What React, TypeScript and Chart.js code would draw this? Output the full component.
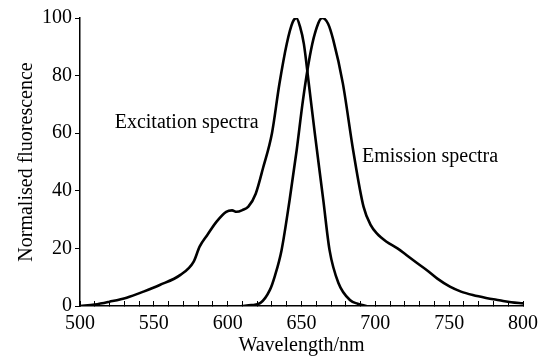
import React, { useEffect, useRef } from "react";
import { Chart, registerables } from "chart.js";

Chart.register(...registerables);

const excitationNm = [500, 510, 520, 531.6, 543, 554, 568, 577, 581, 586, 592.5, 599, 603, 606, 610, 614, 619, 624, 630, 635, 640, 644, 646.5, 649, 651.6, 655, 659, 664.7, 669, 675, 683, 688, 694];
const excitationVal = [0, 0.5, 1.5, 2.9, 5, 7.3, 10.8, 15.4, 20.6, 24.5, 29.3, 32.7, 33.2, 32.7, 33.3, 34.5, 39, 48, 60, 77, 91, 98.5, 100, 97, 91, 77, 60, 37, 19.4, 8, 2, 0.8, 0];

const emissionNm = [609.5, 616, 622, 628.6, 632, 636.5, 642, 646.7, 651, 655.6, 659, 664, 668, 671.5, 678, 685, 692, 697, 701, 707.6, 715, 721, 728, 734.7, 742, 750.5, 758, 766, 775, 784, 792, 800];
const emissionVal = [0, 0.3, 1, 5.6, 10.5, 19.4, 37, 54, 71.5, 86.6, 94.5, 100, 98, 92.4, 77.3, 54, 34.5, 28, 25.2, 22.3, 20, 17.7, 15, 12.5, 9.5, 6.7, 5, 3.8, 2.8, 2, 1.3, 0.9];

const xTitle = "Wavelength/nm";
const yTitle = "Normalised fluorescence";
const curveLabels = ["Excitation spectra", "Emission spectra"];
const curveLabelNm = [523.5, 691];
const curveLabelVal = [63.5, 51.7];

const FONT = "'Liberation Serif', 'Times New Roman', serif";

export default function App() {
  const ref = useRef<HTMLCanvasElement | null>(null);
  useEffect(() => {
    if (!ref.current) return;
    const labelPlugin = {
      id: "curveLabels",
      afterDatasetsDraw(chart: any) {
        const { ctx, scales } = chart;
        ctx.save();
        ctx.fillStyle = "#000";
        ctx.font = `20px ${FONT}`;
        ctx.textAlign = "left";
        ctx.textBaseline = "middle";
        curveLabels.forEach((t, i) => {
          ctx.fillText(t, scales.x.getPixelForValue(curveLabelNm[i]), scales.y.getPixelForValue(curveLabelVal[i]));
        });
        ctx.restore();
      },
    };
    const chart = new Chart(ref.current, {
      type: "line",
      data: {
        datasets: [
          {
            label: "Excitation",
            data: excitationNm.map((x, i) => ({ x, y: excitationVal[i] })),
            borderColor: "#000",
            borderWidth: 2.6,
            pointRadius: 0,
            cubicInterpolationMode: "monotone",
            fill: false,
          },
          {
            label: "Emission",
            data: emissionNm.map((x, i) => ({ x, y: emissionVal[i] })),
            borderColor: "#000",
            borderWidth: 2.6,
            pointRadius: 0,
            cubicInterpolationMode: "monotone",
            fill: false,
          },
        ],
      },
      options: {
        animation: false,
        responsive: false,
        maintainAspectRatio: false,
        layout: { padding: { top: 18, right: 20, left: 0, bottom: 0 } },
        plugins: { legend: { display: false }, tooltip: { enabled: false } },
        scales: {
          x: {
            type: "linear",
            min: 500,
            max: 800,
            afterFit(scale: any) {
              scale.height = 56;
              scale.paddingRight = 0;
              scale.paddingLeft = 0;
            },
            border: { display: true, color: "#000", width: 1.5 },
            grid: { drawOnChartArea: false, drawTicks: true, tickLength: -5, color: "#000", lineWidth: 1 },
            ticks: {
              stepSize: 10,
              autoSkip: false,
              maxRotation: 0,
              padding: 11,
              color: "#000",
              font: { family: FONT, size: 20 },
              callback: (v: any) => (Number(v) % 50 === 0 ? String(v) : ""),
            },
            title: {
              display: true,
              text: xTitle,
              color: "#000",
              font: { family: FONT, size: 20 },
              padding: { top: 0, bottom: 4 },
            },
          },
          y: {
            min: 0,
            max: 100,
            afterFit(scale: any) {
              scale.width = 80;
              scale.paddingTop = 0;
              scale.paddingBottom = 0;
            },
            border: { display: true, color: "#000", width: 1.5 },
            grid: { drawOnChartArea: false, drawTicks: true, tickLength: 5, color: "#000", lineWidth: 1 },
            ticks: {
              stepSize: 20,
              padding: 3,
              color: "#000",
              font: { family: FONT, size: 20 },
            },
            title: {
              display: true,
              text: yTitle,
              color: "#000",
              font: { family: FONT, size: 20 },
              padding: { top: 15, bottom: 0 },
            },
          },
        },
      },
      plugins: [labelPlugin],
    } as any);
    return () => chart.destroy();
  }, []);
  return (
    <div style={{ position: "fixed", left: 0, top: 0, width: 543, height: 362, background: "#fff" }}>
      <canvas ref={ref} width={543} height={362} style={{ width: 543, height: 362, display: "block" }} />
    </div>
  );
}
